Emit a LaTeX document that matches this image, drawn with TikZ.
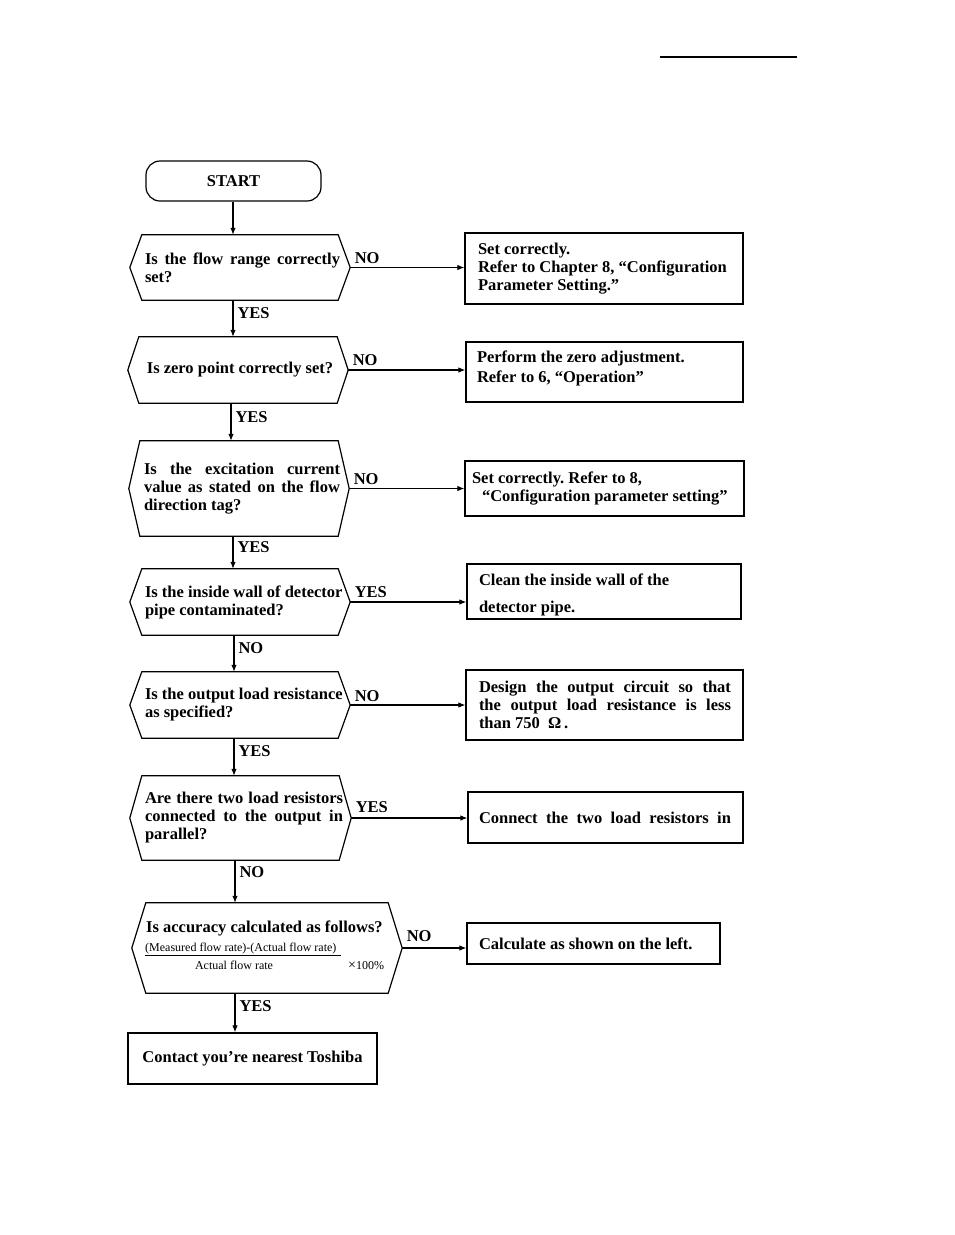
\documentclass[tikz,border=0pt]{standalone}
\usepackage{fontspec}
\setmainfont{Liberation Serif}
\usetikzlibrary{arrows.meta,calc}
\newcommand\hexdraw[2]{\draw[shape line] (#1.west) -- ([xshift=#2]#1.north west) -- ([xshift=-#2]#1.north east) -- (#1.east) -- ([xshift=-#2]#1.south east) -- ([xshift=#2]#1.south west) -- cycle;}
\newcommand\jl[2]{\makebox[#1][s]{#2}}
\newcommand\nl[1]{\mbox{#1}}
\begin{document}
\begin{tikzpicture}[x=1pt,y=-1pt,
  txt/.style={font=\bfseries\fontsize{16.5}{18}\selectfont, execute at begin node={\frenchspacing\spaceskip=0pt\xspaceskip=0pt\relax}},
  small/.style={font=\fontsize{12}{13}\selectfont, inner sep=0pt},
  shape line/.style={line width=1.2pt, line join=miter},
  qbox/.style={txt, inner sep=0pt, align=justify},
  abox/.style={txt, draw, shape line, inner sep=0pt, align=justify},
  arr/.style={line width=1.1pt, -{Latex[length=7pt,width=5.5pt]}},
  lblh/.style={txt, inner sep=0pt, anchor=south west, pos=0, xshift=4pt},
  lblv/.style={txt, inner sep=0pt, anchor=north west, pos=0, xshift=4pt, yshift=-7pt}]
\useasboundingbox (0,0) rectangle (954,1235);
\fill[white] (0,0) rectangle (954,1235);

% header rule
\draw[line width=1.2pt] (660,57) -- (797,57);

% start
\node[txt, draw, shape line, rounded corners=14pt, minimum width=175pt, minimum height=40pt, inner sep=0pt] (s) at (233.5,181) {START};

% questions
\node[qbox, text width=190pt, minimum width=220pt, minimum height=65pt] (q1) at (240,267.5)
  {\jl{195pt}{Is the flow range correctly}\\set?};
\hexdraw{q1}{12pt}
\node[txt, inner sep=0pt, minimum width=220pt, minimum height=66pt] (q2) at (238,370)
  {\hspace{4pt}Is zero point correctly set?};
\hexdraw{q2}{11pt}
\node[qbox, text width=190pt, minimum width=220pt, minimum height=95pt] (q3) at (239,488.5)
  {\jl{196pt}{Is the excitation current}\\\jl{196pt}{value as stated on the flow}\\direction tag?};
\hexdraw{q3}{11pt}
\node[qbox, text width=190pt, minimum width=220pt, minimum height=66pt] (q4) at (240,602)
  {\nl{Is the inside wall of detector}\\\nl{pipe contaminated?}};
\hexdraw{q4}{12pt}
\node[qbox, text width=190pt, minimum width=220pt, minimum height=66pt] (q5) at (240,705)
  {\nl{Is the output load resistance}\\\nl{as specified?}};
\hexdraw{q5}{12pt}
\node[qbox, text width=191pt, minimum width=221pt, minimum height=84pt] (q6) at (240.5,818)
  {\jl{198pt}{Are there two load resistors}\\\jl{198pt}{connected to the output in}\\parallel?};
\hexdraw{q6}{12pt}
\node[inner sep=0pt, minimum width=270pt, minimum height=90pt] (q7) at (267,948) {};
\hexdraw{q7}{14pt}
\node[txt, inner sep=0pt, anchor=base west] (q7a) at (146,932.5) {Is accuracy calculated as follows?};
\node[small, anchor=base west] (q7b) at (145,951) {(Measured flow rate)-(Actual flow rate)};
\draw[line width=0.9pt] (145,955.5) -- (341,955.5);
\node[small, anchor=base] (q7c) at (234,969) {Actual flow rate};
\node[small, anchor=base west] (q7d) at (348,969) {{\fontsize{14}{14}\selectfont ×}100\%};

% action boxes
\node[abox, minimum width=278pt, minimum height=71pt, text width=252pt] (b1) at (604,268.5)
  {\nl{Set correctly.}\\\nl{Refer to Chapter 8, “Configuration}\\\nl{Parameter Setting.”}};
\node[abox, minimum width=277pt, minimum height=60pt, text width=255pt] (b2) at (604.5,372)
  {\nl{Perform the zero adjustment.}\\[2pt]\nl{Refer to 6, “Operation”\rule[-10pt]{0pt}{10pt}}};
\node[abox, minimum width=279pt, minimum height=55pt, text width=265pt] (b3) at (604.5,488.5)
  {\nl{Set correctly. Refer to 8,}\\\nl{\hspace*{10pt}“Configuration parameter setting”}};
\node[abox, minimum width=274pt, minimum height=55pt, text width=250pt] (b4) at (604,591.5)
  {\nl{\rule{0pt}{17.5pt}Clean the inside wall of the}\\[9pt]\nl{detector pipe.}};
\node[abox, minimum width=277pt, minimum height=70pt, text width=251pt] (b5) at (604.5,705)
  {\jl{252pt}{Design the output circuit so that}\\\jl{252pt}{the output load resistance is less}\\\nl{than 750\ \ Ω\,.}};
\node[abox, minimum width=275pt, minimum height=51pt, text width=253pt] (b6) at (605.5,817.5)
  {\jl{252pt}{Connect the two load resistors in}};
\node[abox, minimum width=253pt, minimum height=41pt, text width=229pt] (b7) at (593.5,943.5)
  {\nl{Calculate as shown on the left.}};
\node[txt, draw, shape line, inner sep=0pt, minimum width=249pt, minimum height=51pt] (b8) at (252.5,1058.5)
  {Contact you're nearest Toshiba};

% vertical connectors
\coordinate (x1) at (233,0);
\coordinate (x2) at (231,0);
\coordinate (x4) at (234,0);
\coordinate (x6) at (235,0);
\draw[arr] (s.south -| x1) -- (x1 |- q1.north);
\draw[arr] (q1.south -| x1) -- (x1 |- q2.north) node[lblv]{YES};
\draw[arr] (q2.south -| x2) -- (x2 |- q3.north) node[lblv, yshift=-1pt]{YES};
\draw[arr] (q3.south -| x1) -- (x1 |- q4.north) node[lblv, yshift=2pt]{YES};
\draw[arr] (q4.south -| x4) -- (x4 |- q5.north) node[lblv]{NO};
\draw[arr] (q5.south -| x4) -- (x4 |- q6.north) node[lblv]{YES};
\draw[arr] (q6.south -| x6) -- (x6 |- q7.north) node[lblv, yshift=1pt]{NO};
\draw[arr] (q7.south -| x6) -- (x6 |- b8.north) node[lblv]{YES};

% horizontal connectors
\draw[arr] (q1.east) -- (q1.east -| b1.west) node[lblh, yshift=3.5pt]{NO};
\draw[arr] (q2.east) -- (q2.east -| b2.west) node[lblh, yshift=3.5pt]{NO};
\draw[arr] (q3.east) -- (q3.east -| b3.west) node[lblh, yshift=3.5pt]{NO};
\draw[arr] (q4.east) -- (q4.east -| b4.west) node[lblh, yshift=3.5pt]{YES};
\draw[arr] (q5.east) -- (q5.east -| b5.west) node[lblh, yshift=2.5pt]{NO};
\draw[arr] (q6.east) -- (q6.east -| b6.west) node[lblh, yshift=5pt]{YES};
\draw[arr] (q7.east) -- (q7.east -| b7.west) node[lblh, yshift=6pt]{NO};
\end{tikzpicture}
\end{document}
